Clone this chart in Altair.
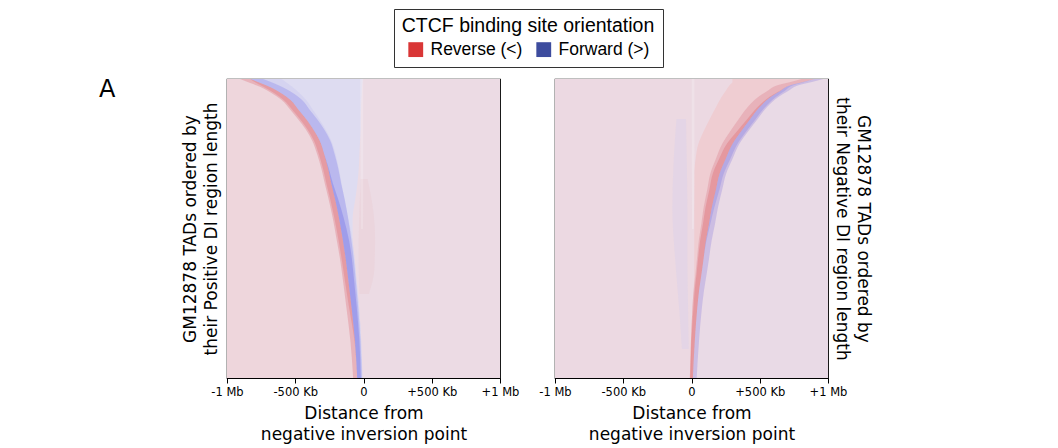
import altair as alt
import pandas as pd

# ---------------- data ----------------
tick_values = [-1000, -500, 0, 500, 1000]
tick_labels = ["-1 Mb", "-500 Kb", "0", "+500 Kb", "+1 Mb"]

legend_labels = ["Reverse (<)", "Forward (>)"]
legend_colors = ["#d93636", "#3d4c9e"]

panel_letter = ["A"]

# full height of the TAD ranking (top to bottom)
full_rank = [0, 299]

# Left panel (ordered by positive DI region length): red/blue boundary per TAD rank (Kb)
L_rank = [0, 4, 8, 14, 21, 31, 41, 50, 62, 75, 90, 105, 120, 140, 162, 180, 200, 229, 262, 299]
L_bound = [-830, -755, -685, -605, -535, -475, -415, -370, -320, -288, -258, -235, -208, -178, -150, -130, -112, -87, -62, -46]
L_red_w = [75, 75, 70, 70, 65, 60, 60, 55, 55, 52, 50, 48, 48, 46, 45, 42, 40, 38, 34, 30]
L_blue_w = [95, 95, 90, 88, 85, 82, 80, 80, 78, 76, 74, 72, 70, 66, 62, 58, 54, 48, 40, 34]
L_haze_end = [-5, -8, -10, -12, -15, -18, -20, -20, -25, -30, -35, -45, -60, -80, -80, -65, -52, -32, -17, -8]
# stronger part of the blue haze next to the curve (end position, Kb)
L_haze_near = [-600, -560, -520, -470, -420, -370, -320, -280, -235, -205, -180, -160, -140, -110, -80, -65, -52, -32, -17, -8]
# width of the most intense part of each band (Kb)
L_red_core = [0, 30, 45, 50, 50, 45, 45, 42, 42, 40, 38, 36, 36, 34, 32, 30, 26, 18, 4, 0]
L_blue_core = [0, 0, 0, 0, 0, 0, 0, 0, 0, 0, 5, 12, 22, 35, 45, 45, 42, 38, 32, 26]

# faint red patch right of 0 (left panel)
P_rank = [100, 130, 160, 190, 215]
P_x0 = [-20, -30, -35, -35, -30]
P_x1 = [30, 70, 85, 80, 40]

# Right panel (ordered by negative DI region length)
R_rank = [0, 3, 6, 12, 18, 28, 41, 52, 65, 80, 95, 110, 129, 145, 162, 180, 195, 212, 229, 262, 299]
R_bound = [900, 820, 730, 650, 580, 500, 425, 365, 300, 250, 205, 180, 148, 128, 105, 88, 73, 55, 42, 24, 10]
R_red_w = [95, 95, 95, 95, 92, 88, 84, 80, 76, 72, 68, 64, 60, 56, 52, 48, 44, 40, 35, 28, 22]
R_blue_w = [65, 62, 60, 58, 56, 54, 54, 52, 50, 50, 48, 46, 45, 44, 42, 40, 38, 36, 34, 31, 28]
R_haze_start = [300, 300, 280, 250, 220, 180, 130, 90, 50, 30, 20, 20, 20, 20, 20, 20, 20, 15, 10, 5, 0]
R_red_core = [0, 0, 0, 5, 10, 15, 22, 30, 42, 48, 50, 48, 46, 44, 42, 40, 36, 32, 28, 24, 18]
R_blue_core = [0, 10, 20, 32, 38, 40, 40, 38, 36, 34, 30, 26, 18, 10, 4, 0, 0, 0, 0, 0, 0]

# faint blue stripe left of 0 (right panel)
Q_rank = [40, 80, 130, 180, 230, 270]
Q_x0 = [-110, -130, -140, -120, -90, -70]
Q_x1 = [-40, -35, -30, -30, -25, -20]

# light stripe along the 0 line
S_rank = [0, 60, 120, 150]
SL_x0 = [-24, -22, -20, -18]
SL_x1 = [-2, -2, -2, -4]
SR_x0 = [2, 2, 3, 4]
SR_x1 = [22, 22, 20, 16]

# ---------------- tables ----------------
left = pd.DataFrame({"rank": L_rank, "bound": L_bound, "red_w": L_red_w,
                     "blue_w": L_blue_w, "haze_end": L_haze_end, "haze_near": L_haze_near})
left["edge_lo"] = tick_values[0]
left["red_lo"] = left["bound"] - left["red_w"]
left["blue_hi"] = left["bound"] + left["blue_w"]
left["red_core_lo"] = left["bound"] - pd.Series(L_red_core)
left["blue_core_hi"] = left["bound"] + pd.Series(L_blue_core)

right = pd.DataFrame({"rank": R_rank, "bound": R_bound, "red_w": R_red_w,
                      "blue_w": R_blue_w, "haze_start": R_haze_start})
right["edge_hi"] = tick_values[-1]
right["red_lo"] = right["bound"] - right["red_w"]
right["blue_hi"] = right["bound"] + right["blue_w"]
right["red_core_lo"] = right["bound"] - pd.Series(R_red_core)
right["blue_core_hi"] = right["bound"] + pd.Series(R_blue_core)

full = pd.DataFrame({"rank": full_rank, "x0": [tick_values[0]] * 2, "x1": [tick_values[-1]] * 2})
patch = pd.DataFrame({"rank": P_rank, "x0": P_x0, "x1": P_x1})
qstripe = pd.DataFrame({"rank": Q_rank, "x0": Q_x0, "x1": Q_x1})
sleft = pd.DataFrame({"rank": S_rank, "x0": SL_x0, "x1": SL_x1})
sright = pd.DataFrame({"rank": S_rank, "x0": SR_x0, "x1": SR_x1})

W, H = 273, 299
FONT = "DejaVu Sans"

label_expr = " : ".join(f"datum.value == {v} ? '{t}'" for v, t in zip(tick_values, tick_labels)) + " : ''"

xscale = alt.Scale(domain=[tick_values[0], tick_values[-1]], nice=False, zero=False)
yscale = alt.Scale(domain=full_rank, reverse=True, nice=False, zero=False)

xaxis = alt.Axis(values=tick_values, labelExpr=label_expr, tickSize=5, tickColor="black",
                 tickWidth=1, domain=False, grid=False, labelFont=FONT, labelFontSize=11.5,
                 labelColor="black", labelPadding=3, labelOverlap=False, labelFlush=False,
                 title=["Distance from", "negative inversion point"], titleFont=FONT,
                 titleFontSize=17, titleFontWeight="normal", titleColor="black",
                 titlePadding=8, titleLineHeight=21)


def yaxis(which, orient):
    return alt.Axis(orient=orient, ticks=False, labels=False, domain=False, grid=False,
                    title=["GM12878 TADs ordered by", f"their {which} DI region length"],
                    titleFont=FONT, titleFontSize=17, titleFontWeight="normal",
                    titleColor="black", titlePadding=7 if orient == "left" else 4,
                    titleLineHeight=21)


def band(df, x0, x1, color, opacity, ax):
    return alt.Chart(df).mark_area(orient="horizontal", interpolate="monotone",
                                   color=color, opacity=opacity, clip=True).encode(
        y=alt.Y("rank:Q", scale=yscale, axis=ax),
        x=alt.X(f"{x0}:Q", scale=xscale, axis=xaxis),
        x2=alt.X2(f"{x1}:Q"),
    )


ya_left = yaxis("Positive", "left")
ya_right = yaxis("Negative", "right")

legend_layer = alt.Chart(pd.DataFrame({"orientation": legend_labels})).transform_filter("false").mark_square().encode(
    color=alt.Color("orientation:N",
                    scale=alt.Scale(domain=legend_labels, range=legend_colors),
                    legend=alt.Legend(title="CTCF binding site orientation", orient="none",
                                      legendX=167, legendY=-70, direction="horizontal",
                                      titleAnchor="middle", titleFont="Liberation Sans",
                                      titleFontSize=19.5, titleFontWeight="normal",
                                      titleColor="black", titlePadding=4, titleLimit=0,
                                      labelFont="Liberation Sans", labelFontSize=17.5,
                                      labelColor="black", labelOffset=6, labelLimit=0,
                                      symbolType="square", symbolSize=220,
                                      symbolStrokeWidth=0, symbolOpacity=1,
                                      columnPadding=12, strokeColor="#333333",
                                      padding=8))
)

letter = alt.Chart(pd.DataFrame({"t": panel_letter})).mark_text(
    font=FONT, fontSize=24, align="left", baseline="alphabetic", color="black"
).encode(text="t:N", x=alt.value(-128), y=alt.value(18))

RED = "#dc4a4e"
BLUE = "#5a5ae6"

left_chart = alt.layer(
    band(full, "x0", "x1", "#ecdbe4", 1, ya_left),
    band(left, "edge_lo", "red_lo", "#eed6dc", 1, ya_left),
    band(left, "bound", "haze_end", "#dedcf1", 1, ya_left),
    band(left, "bound", "haze_near", "#cfcdf0", 0.6, ya_left),
    band(sleft, "x0", "x1", "#f4eef3", 0.4, ya_left),
    band(patch, "x0", "x1", "#e58a8c", 0.07, ya_left),
    band(left, "red_lo", "bound", RED, 0.27, ya_left),
    band(left, "red_core_lo", "bound", RED, 0.22, ya_left),
    band(left, "bound", "blue_hi", BLUE, 0.22, ya_left),
    band(left, "bound", "blue_core_hi", BLUE, 0.28, ya_left),
    letter,
    legend_layer,
).properties(width=W, height=H)

right_chart = alt.layer(
    band(full, "x0", "x1", "#ecd9e2", 1, ya_right),
    band(right, "blue_hi", "edge_hi", "#e9dae6", 1, ya_right),
    band(qstripe, "x0", "x1", "#cfcef0", 0.3, ya_right),
    band(right, "haze_start", "red_lo", "#efcdd2", 1, ya_right),
    band(sright, "x0", "x1", "#f4eef3", 0.4, ya_right),
    band(right, "red_lo", "bound", RED, 0.27, ya_right),
    band(right, "red_core_lo", "bound", RED, 0.25, ya_right),
    band(right, "bound", "blue_hi", BLUE, 0.22, ya_right),
    band(right, "bound", "blue_core_hi", BLUE, 0.2, ya_right),
).properties(width=W, height=H)

chart = alt.hconcat(left_chart, right_chart, spacing=55, bounds="flush").properties(
    padding={"left": 90, "top": 0, "right": 5, "bottom": 5}
).configure_view(stroke="black", strokeWidth=1.2)

chart.save("out.html", embed_options={"renderer": "svg", "actions": False})
